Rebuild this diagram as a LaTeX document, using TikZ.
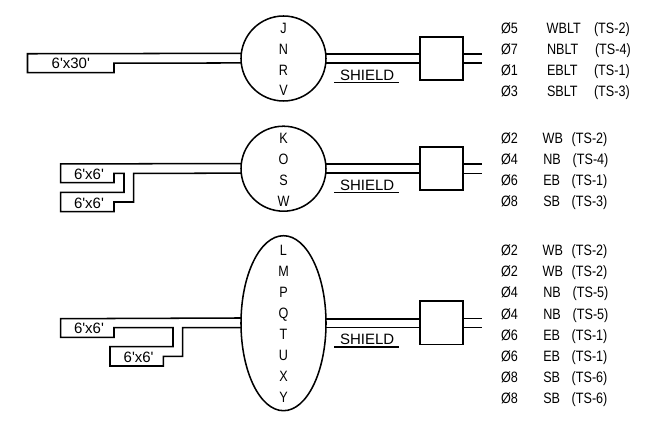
\documentclass[tikz,border=0pt]{standalone}
\usepackage{fontspec}
\setmainfont{Liberation Sans}
\newfontfamily\narrowfont[FakeStretch=0.84]{Liberation Sans}
\newfontfamily\plainfont{Liberation Sans}
\usetikzlibrary{shapes.geometric}
\tikzset{
  wire/.style={line width=1.15pt,line join=miter},
  outline/.style={draw,line width=1.15pt,fill=white,inner sep=0pt,outer sep=0pt},
  roundbody/.style={outline,circle,minimum size=63.75pt},
  ovalbody/.style={outline,ellipse,minimum width=63.75pt,minimum height=131.25pt},
  boxbody/.style={outline,rectangle,minimum width=32.25pt,minimum height=32.5pt},
  wide/.style={inner sep=0pt,outer sep=0pt,anchor=base west,yshift=-4pt,font=\fontsize{11.25}{13}\plainfont},
  thin/.style={inner sep=0pt,outer sep=0pt,anchor=base west,yshift=-4pt,font=\fontsize{11.25}{13}\narrowfont},
  letter/.style={inner sep=0pt,outer sep=0pt,anchor=base,yshift=-4pt,font=\fontsize{11.25}{13}\narrowfont},
}
\begin{document}
\begin{tikzpicture}[x=0.75pt,y=-0.75pt]
\useasboundingbox (0,0) rectangle (653,423);
% bodies
\node[roundbody] (b1) at (283.5,58.5) {};
\node[roundbody] (b2) at (283.5,168.7) {};
\node[ovalbody] (b3) at (283.5,323.2) {};
\node[boxbody] (x1) at (441.5,58.5) {};
\node[boxbody] (x2) at (441.5,168.5) {};
\node[boxbody] (x3) at (441.5,322.8) {};
% free ends
\coordinate (e1a) at (482,53.76);
\coordinate (e1b) at (482,63.24);
\coordinate (e2a) at (482,163.96);
\coordinate (e2b) at (482,173.44);
\coordinate (e3a) at (482,318.7);
\coordinate (e3b) at (482,327.7);
% wires between bodies and boxes
\draw[wire] (b1.6.4) -- (b1.6.4 -| x1.west);
\draw[wire] (b1.-6.4) -- (b1.-6.4 -| x1.west);
\draw[wire] (b2.6.4) -- (b2.6.4 -| x2.west);
\draw[wire] (b2.-6.4) -- (b2.-6.4 -| x2.west);
\draw[wire] (b3.6.05) -- (b3.6.05 -| x3.west);
\draw[wire] (b3.-6.05) -- (b3.-6.05 -| x3.west);
% outgoing wires
\draw[wire] (x1.east |- e1a) -- (e1a);
\draw[wire] (x1.east |- e1b) -- (e1b);
\draw[wire] (x2.east |- e2a) -- (e2a);
\draw[wire] (x2.east |- e2b) -- (e2b);
\draw[wire] (x3.east |- e3a) -- (e3a);
\draw[wire] (x3.east |- e3b) -- (e3b);
% left cable outlines
\draw[wire] (b1.173.6) -- (27.5,53.76) -- (27.5,72.7) -- (114,72.7) -- (114,63.24) -- (b1.186.4);
\draw[wire] (b2.173.6) -- (60.7,163.96) -- (60.7,182.7) -- (114,182.7) -- (114,173.44) -- (124,173.44) -- (124,192.3) -- (60.7,192.3) -- (60.7,211.7) -- (114,211.7) -- (114,202) -- (133.7,202) -- (133.7,173.44) -- (b2.186.4);
\draw[wire] (b3.173.95) -- (60.7,318.7) -- (60.7,337.3) -- (114,337.3) -- (114,327.7) -- (173,327.7) -- (173,346.7) -- (110,346.7) -- (110,366) -- (163.3,366) -- (163.3,356.3) -- (182.7,356.3) -- (182.7,327.7) -- (b3.186.05);
% cable labels
\node[wide] (c1) at (51.7,63.3) {6'x30'};
\node[wide] (c2) at (74,174) {6'x6'};
\node[wide] (c3) at (74,202.7) {6'x6'};
\node[wide] (c4) at (74,328.3) {6'x6'};
\node[wide] (c5) at (123.7,356.7) {6'x6'};
% shield labels
\node[wide] (s1) at (340,75.5) {SHIELD};
\node[wide] (s2) at (340,185.5) {SHIELD};
\node[wide] (s3) at (340,339.5) {SHIELD};
\draw[wire] (334,82.5) -- (398.7,82.5);
\draw[wire] (334,192.7) -- (398.7,192.7);
\draw[wire] (334,347) -- (398.7,347);
% letters in bodies
\foreach \c/\p in {J/28,N/49,R/70,V/90,K/138,O/159.5,S/180,W/201,L/250,M/270.7,P/291.7,Q/313,T/334,U/355,X/376,Y/397}
  \node[letter] (l\c) at (283.5,\p) {\c};
% right table
\foreach \n/\p/\a/\b/\bx/\d/\dx in {
  1/28/5/WBLT/546.7/2/594, 2/49/7/NBLT/547/4/595, 3/70/1/EBLT/547/1/594, 4/91/3/SBLT/547/3/594,
  5/137.7/2/WB/542.7/2/571.7, 6/158.7/4/NB/543.3/4/572.7, 7/180/6/EB/543.3/1/571.7, 8/201/8/SB/543.3/3/571.7,
  9/250/2/WB/542.7/2/571.7, 10/271/2/WB/542.7/2/571.7, 11/292.3/4/NB/543.3/5/572.7, 12/313.7/4/NB/543.3/5/572.7,
  13/334.7/6/EB/543.3/1/571.7, 14/355.7/6/EB/543.3/1/571.7, 15/376.7/8/SB/543.3/6/571.7, 16/397.7/8/SB/543.3/6/571.7}{
  \node[thin] (ra\n) at (501,\p) {Ø\a};
  \node[thin] (rb\n) at (\bx,\p) {\b};
  \node[thin] (rc\n) at (\dx,\p) {(TS-\d)};
}
\end{tikzpicture}
\end{document}
